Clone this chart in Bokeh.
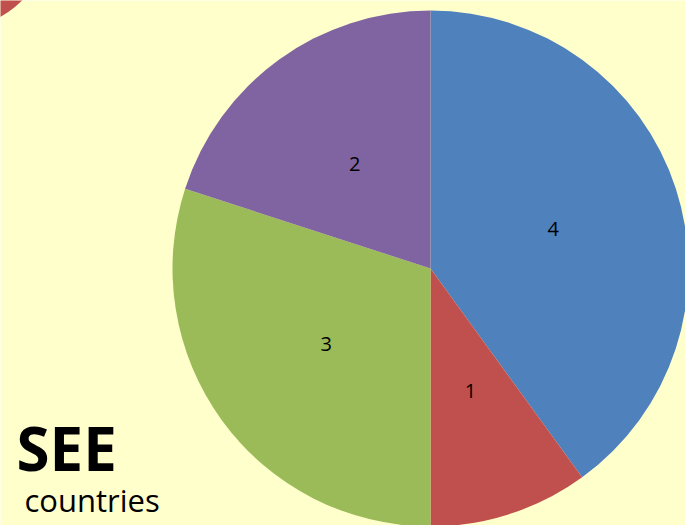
import re
import math
from bokeh.plotting import figure
from bokeh.models import Range1d, ColumnDataSource
from bokeh.core.properties import value
from bokeh.embed import file_html
from bokeh.resources import INLINE

labels = ["4", "1", "3", "2"]
values = [4, 1, 3, 2]
colors = ["#4F81BD", "#C0504D", "#9BBB59", "#8064A2"]

W, H = 685, 525
p = figure(width=W, height=H, output_backend="svg", toolbar_location=None,
           x_range=Range1d(0, W), y_range=Range1d(0, H), min_border=0,
           background_fill_color="#FFFFCC", border_fill_color="#FFFFCC",
           outline_line_color=None)
p.axis.visible = False
p.grid.visible = False

# decorative red shape in the top-left corner
p.circle(x=[-40], y=[H + 60], radius=86, fill_color="#C0504D", line_color=None)

cx, cy, r = 430, H - 268, 258
total = sum(values)
starts, ends, lx, ly = [], [], [], []
acc = 0.0
for v in values:
    a0 = math.pi / 2 - 2 * math.pi * acc / total
    a1 = math.pi / 2 - 2 * math.pi * (acc + v) / total
    starts.append(a1)
    ends.append(a0)
    mid = (a0 + a1) / 2
    lx.append(cx + 0.5 * r * math.cos(mid))
    ly.append(cy + 0.5 * r * math.sin(mid))
    acc += v

src = ColumnDataSource(dict(start=starts, end=ends, color=colors, lx=lx, ly=ly, label=labels))
p.wedge(x=cx, y=cy, radius=r, start_angle="start", end_angle="end",
        fill_color="color", line_color=None, source=src)
p.text(x="lx", y="ly", text="label", source=src, text_align="center", text_baseline="middle",
       text_font=value("Open Sans"), text_font_size="20px", text_color="black")

p.text(x=[16], y=[H - 447], text=["SEE"], text_font=value("Open Sans"), text_font_style="bold",
       text_font_size="60px", text_baseline="alphabetic", text_color="black")
p.text(x=[24], y=[H - 499], text=["countries"], text_font=value("Open Sans"),
       text_font_size="31px", text_baseline="alphabetic", text_color="black")

html = file_html(p, INLINE)
html = re.sub(r"<body[^>]*>", '<body style="margin:0;padding:0;overflow:hidden;background:#FFFFCC;">', html, count=1)
open("out.html", "w").write(html)
